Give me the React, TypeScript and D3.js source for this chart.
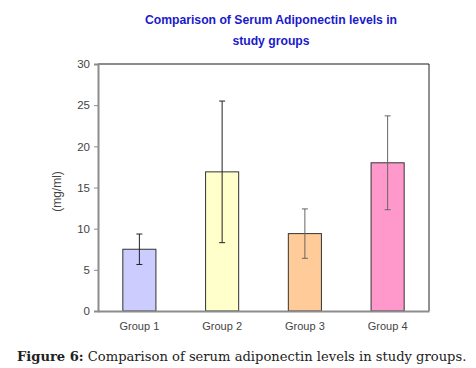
import * as d3 from 'd3'
import { useEffect, useRef, type ReactElement } from 'react'

const groups = ['Group 1', 'Group 2', 'Group 3', 'Group 4']
const means = [7.5, 16.9, 9.4, 18.0]
const errors = [1.85, 8.6, 3.0, 5.7]
const barColors = ['#ccccff', '#ffffcc', '#ffcc99', '#ff99cc']
const yTicks = [0, 5, 10, 15, 20, 25, 30]

const width = 476
const height = 368
const margin = { top: 64, right: 47, bottom: 57, left: 98 }
const sansFont = '"Liberation Sans", Arial, sans-serif'

export default function App(): ReactElement {
  const svgRef = useRef<SVGSVGElement>(null)

  useEffect(() => {
    const svgElement = svgRef.current
    if (!svgElement) {
      return
    }
    const svg = d3.select(svgElement)
    svg.selectAll('*').remove()

    const innerWidth = width - margin.left - margin.right
    const innerHeight = height - margin.top - margin.bottom

    const xScale = d3.scaleBand<string>().domain(groups).range([0, innerWidth]).paddingInner(0.6).paddingOuter(0.3)
    const yScale = d3.scaleLinear().domain([0, 30]).range([innerHeight, 0])

    svg.append('rect').attr('width', width).attr('height', height).attr('fill', '#ffffff')

    const title = svg
      .append('text')
      .attr('text-anchor', 'middle')
      .attr('font-family', sansFont)
      .attr('font-weight', 'bold')
      .attr('font-size', 12.2)
      .attr('fill', '#1a1acc')
    title.append('tspan').attr('x', 271).attr('y', 24).text('Comparison of Serum Adiponectin levels in')
    title.append('tspan').attr('x', 271).attr('y', 45).text('study groups')

    const root = svg.append('g').attr('transform', `translate(${margin.left},${margin.top})`)

    // frame: gray top, thin dark right
    root
      .append('line')
      .attr('x1', 0)
      .attr('x2', innerWidth)
      .attr('y1', 0)
      .attr('y2', 0)
      .attr('stroke', '#8c8c8c')
      .attr('stroke-width', 2)
    root
      .append('line')
      .attr('x1', innerWidth)
      .attr('x2', innerWidth)
      .attr('y1', 0)
      .attr('y2', innerHeight)
      .attr('stroke', '#222')
      .attr('stroke-width', 1)

    const bandWidth = xScale.bandwidth()
    groups.forEach((g, i) => {
      const x0 = xScale(g) ?? 0
      root
        .append('rect')
        .attr('x', x0)
        .attr('y', yScale(means[i]!))
        .attr('width', bandWidth)
        .attr('height', innerHeight - yScale(means[i]!))
        .attr('fill', barColors[i]!)
        .attr('stroke', '#333')
        .attr('stroke-width', 1)
    })

    groups.forEach((g, i) => {
      const cx = (xScale(g) ?? 0) + bandWidth / 2
      const top = yScale(means[i]! + errors[i]!)
      const bottom = yScale(means[i]! - errors[i]!)
      const errColor = i < 2 ? '#222' : '#666'
      root
        .append('line')
        .attr('x1', cx)
        .attr('x2', cx)
        .attr('y1', top)
        .attr('y2', bottom)
        .attr('stroke', errColor)
        .attr('stroke-width', 1)
      ;[top, bottom].forEach((y) =>
        root
          .append('line')
          .attr('x1', cx - 3)
          .attr('x2', cx + 3)
          .attr('y1', y)
          .attr('y2', y)
          .attr('stroke', errColor)
          .attr('stroke-width', 1),
      )
    })

    const yAxis = root.append('g').call(d3.axisLeft(yScale).tickValues(yTicks).tickSize(4).tickPadding(4))
    yAxis.select('.domain').attr('stroke', '#8c8c8c').attr('stroke-width', 2)
    yAxis.selectAll('line').attr('stroke', '#8c8c8c')
    yAxis.selectAll('text').attr('font-family', sansFont).attr('font-size', 11.5).attr('fill', '#444')

    const xAxis = root
      .append('g')
      .attr('transform', `translate(0,${innerHeight})`)
      .call(d3.axisBottom(xScale).tickSize(0).tickPadding(11))
    xAxis.select('.domain').attr('stroke', '#8c8c8c').attr('stroke-width', 2)
    xAxis.selectAll('text').attr('font-family', sansFont).attr('font-size', 11).attr('fill', '#444')

    svg
      .append('text')
      .attr('transform', `translate(61,${margin.top + innerHeight / 2 + 4}) rotate(-90)`)
      .attr('text-anchor', 'middle')
      .attr('font-family', sansFont)
      .attr('font-size', 12)
      .attr('fill', '#444')
      .text('(mg/ml)')

    const caption = svg
      .append('text')
      .attr('x', 17)
      .attr('y', 361)
      .attr('font-family', '"DejaVu Serif", "Liberation Serif", serif')
      .attr('font-size', 13.1)
      .attr('fill', '#222')
    caption.append('tspan').attr('font-weight', 'bold').text('Figure 6:')
    caption.append('tspan').text(' Comparison of serum adiponectin levels in study groups.')
  }, [])

  return (
    <div style={{ position: 'absolute', left: 0, top: 0 }}>
      <svg ref={svgRef} width={width} height={height} style={{ display: 'block' }} />
    </div>
  )
}
